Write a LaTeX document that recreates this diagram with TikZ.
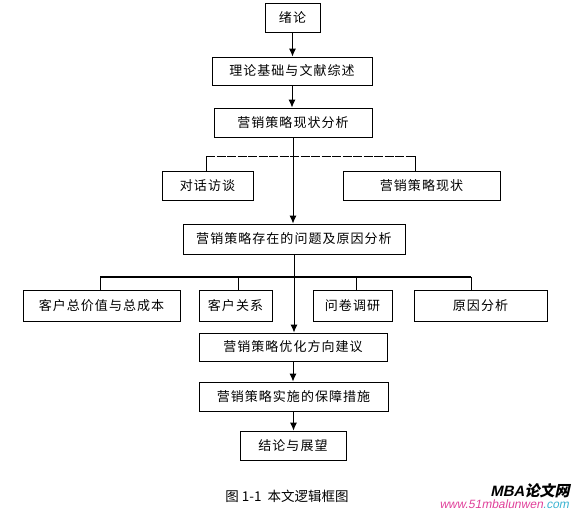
\documentclass[tikz,border=0pt]{standalone}
\usepackage{fontspec}
\setmainfont{Liberation Sans}
\newfontfamily\cjk[LetterSpace=8]{Noto Sans CJK SC}
\newfontfamily\cjkw{Noto Sans CJK SC}
\usetikzlibrary{arrows.meta,shadows}
\definecolor{wmpink}{HTML}{E0409A}
\definecolor{wmcyan}{HTML}{3CB4D2}
\tikzset{
  box/.style={draw=black, line width=0.8pt, fill=white, inner sep=0pt,
    font=\cjk\fontsize{13}{15}\selectfont,
    drop shadow={shadow xshift=1pt, shadow yshift=-1pt, opacity=1, fill=black}},
  arr/.style={line width=1pt, -{Latex[length=8pt,width=7pt]}},
  ln/.style={line width=0.6pt},
  barsolid/.style={line width=1.4pt},
  bardash/.style={line width=1pt, dash pattern=on 9pt off 1.5pt},
}
\begin{document}
\begin{tikzpicture}[x=1pt,y=-1pt]
\useasboundingbox (0,0) rectangle (575,511);
\node[box, minimum width=55pt, minimum height=29pt] (xl) at (292.5,17.5) {绪论};
\node[box, minimum width=160pt, minimum height=28pt] (ll) at (292,71) {理论基础与文献综述};
\node[box, minimum width=158pt, minimum height=29pt] (xz) at (293,122.5) {营销策略现状分析};
\node[box, minimum width=91pt, minimum height=29pt] (dh) at (207.5,185.5) {对话访谈};
\node[box, minimum width=157pt, minimum height=29pt] (xs) at (421.5,185.5) {营销策略现状};
\node[box, minimum width=222pt, minimum height=30pt] (wt) at (294,239) {营销策略存在的问题及原因分析};
\node[box, minimum width=157pt, minimum height=31pt] (kz) at (101.5,305.5) {客户总价值与总成本};
\node[box, minimum width=73pt, minimum height=31pt] (kg) at (235.5,305.5) {客户关系};
\node[box, minimum width=79pt, minimum height=31pt] (wj) at (352.5,305.5) {问卷调研};
\node[box, minimum width=133pt, minimum height=31pt] (yy) at (480.5,305.5) {原因分析};
\node[box, minimum width=188pt, minimum height=28pt] (yh) at (293,347) {营销策略优化方向建议};
\node[box, minimum width=189pt, minimum height=29pt] (ss) at (293.5,396.5) {营销策略实施的保障措施};
\node[box, minimum width=106pt, minimum height=29pt] (jl) at (293,445.5) {结论与展望};

% main flow
\draw[arr] (xl.south) -- (xl.south |- ll.north);
\draw[arr] (ll.south) -- (ll.south |- xz.north);
\draw[arr] (xz.south) -- (xz.south |- wt.north);
\draw[arr] (wt.south) -- (wt.south |- yh.north);
\draw[arr] (yh.south) -- (yh.south |- ss.north);
\draw[arr] (ss.south) -- (ss.south |- jl.north);

% upper branch
\coordinate (u1) at (206,156);
\coordinate (u2) at (415,156);
\draw[bardash] (u1) -- (u2);
\draw[ln] (u1) -- (u1 |- dh.north);
\draw[ln] (u2) -- (u2 |- xs.north);

% lower branch
\coordinate (l1) at (100,277);
\coordinate (l2) at (238,277);
\coordinate (l3) at (356,277);
\coordinate (l4) at (471,277);
\draw[barsolid] (l1) -- (l4);
\draw[ln] (l1) -- (l1 |- kz.north);
\draw[ln] (l2) -- (l2 |- kg.north);
\draw[ln] (l3) -- (l3 |- wj.north);
\draw[ln] (l4) -- (l4 |- yy.north);

% caption
\node[font=\cjkw\fontsize{13.5}{15}\selectfont] (cap) at (287,496) {图 1-1\ \ 本文逻辑框图};

% watermark
\node[anchor=east, xslant=0.22, inner sep=0pt, font=\bfseries\fontsize{15}{17}\selectfont] (wm) at (571,490.5) {MBA{\cjkw\bfseries 论文网}};
\node[anchor=east, xslant=0.2, inner sep=0pt, font=\fontsize{12}{14}\selectfont] (url) at (570,504.5) {\textcolor{wmpink}{www.51mbalunwen}\textcolor{wmcyan}{.com}};
\end{tikzpicture}
\end{document}
